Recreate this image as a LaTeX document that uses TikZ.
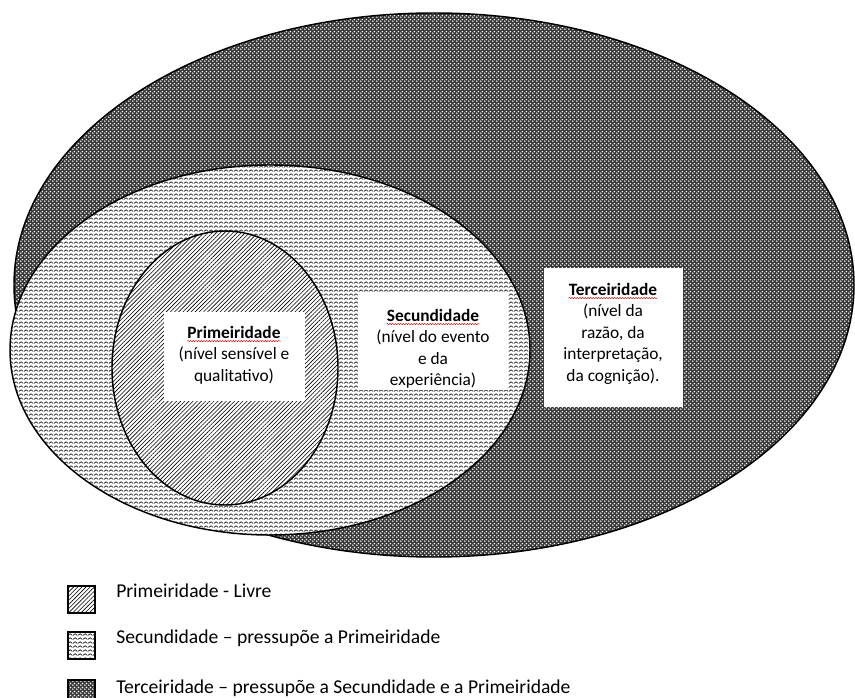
\documentclass[tikz,border=0pt]{standalone}
\usepackage{fontspec}
\setmainfont{Carlito}
\usetikzlibrary{patterns.meta,decorations.pathmorphing}

\tikzdeclarepattern{
  name=zigwave, type=uncolored,
  bounding box={(0,0) and (3.4pt,2.6pt)},
  tile size={(3.4pt,2.6pt)},
  code={\draw[line width=0.5pt] (-0.1pt,0.5pt) -- (1.7pt,1.9pt) -- (3.5pt,0.5pt);}
}
\tikzdeclarepattern{
  name=holes, type=uncolored,
  bounding box={(0,0) and (3pt,3pt)},
  tile size={(3pt,3pt)},
  code={\fill (0.75pt,0.75pt) circle (0.72pt); \fill (2.25pt,2.25pt) circle (0.72pt);}
}

\tikzset{
  ring/.style={draw=black, line width=1.1pt},
  pfirst/.style={preaction={fill=white}, pattern={Lines[angle=45,distance=2.2pt,line width=0.45pt]}, pattern color=black},
  psecond/.style={preaction={fill=white}, pattern=zigwave, pattern color=black},
  pthird/.style={preaction={fill=black!78}, pattern=holes, pattern color=white},
  whitebox/.style={fill=white, draw=none, inner sep=0pt},
  title/.style={font=\fontsize{13}{16}\selectfont\bfseries, inner sep=0pt, anchor=base},
  line/.style={inner sep=0pt, anchor=base},
  squig/.style={draw=red!85!black, line width=0.35pt, decorate, decoration={snake, amplitude=0.45pt, segment length=2pt}},
  legsq/.style={draw=black, line width=1.1pt},
  legtxt/.style={anchor=west, inner sep=0pt, font=\fontsize{14.7}{18}\selectfont}
}

\begin{document}
\begin{tikzpicture}[x=0.75pt, y=-0.75pt, every node/.style={font=\fontsize{13}{16}\selectfont}]
\useasboundingbox (0,0) rectangle (855,698);

% Ellipses
\path[ring, pthird] (434,285) ellipse [x radius=420, y radius=272];
\path[ring, psecond] (270,350) ellipse [x radius=260, y radius=185];
\path[ring, pfirst] (225,368) ellipse [x radius=113, y radius=137];

% Boxes
\node[whitebox, minimum width=141*0.75pt, minimum height=89*0.75pt] (b1) at (234,356) {};
\node[whitebox, minimum width=150*0.75pt, minimum height=97*0.75pt] (b2) at (433,341.5) {};
\node[whitebox, minimum width=139*0.75pt, minimum height=139*0.75pt] (b3) at (613.5,337.5) {};

% Primeiridade text
\node[title] (t1) at (234,338) {Primeiridade};
\draw[squig] ([yshift=-2pt]t1.south west) -- ([yshift=-2pt]t1.south east);
\node[line] (l1a) at (234,359.5) {(nível sensível e};
\node[line] (l1b) at (234,381) {qualitativo)};

% Secundidade text
\node[title] (t2) at (433,321) {Secundidade};
\draw[squig] ([yshift=-2pt]t2.south west) -- ([yshift=-2pt]t2.south east);
\node[line] (l2a) at (433,342.5) {(nível do evento};
\node[line] (l2b) at (433,364) {e da};
\node[line] (l2c) at (433,385.5) {experiência)};

% Terceiridade text
\node[title] (t3) at (613,295) {Terceiridade};
\draw[squig] ([yshift=-2pt]t3.south west) -- ([yshift=-2pt]t3.south east);
\node[line] (l3a) at (613,316.5) {(nível da};
\node[line] (l3b) at (613,338) {razão, da};
\node[line] (l3c) at (613,359.5) {interpretação,};
\node[line] (l3d) at (613,381) {da cognição).};

% Legend
\path[legsq, pfirst] (68,586) rectangle (95,613);
\path[legsq, psecond] (68,632) rectangle (95,659);
\path[legsq, pthird] (68,680) rectangle (95,707);
\node[legtxt] (g1) at (116,591) {Primeiridade - Livre};
\node[legtxt] (g2) at (116,638) {Secundidade – pressupõe a Primeiridade};
\node[legtxt] (g3) at (116,688) {Terceiridade – pressupõe a Secundidade e a Primeiridade};
\end{tikzpicture}
\end{document}
